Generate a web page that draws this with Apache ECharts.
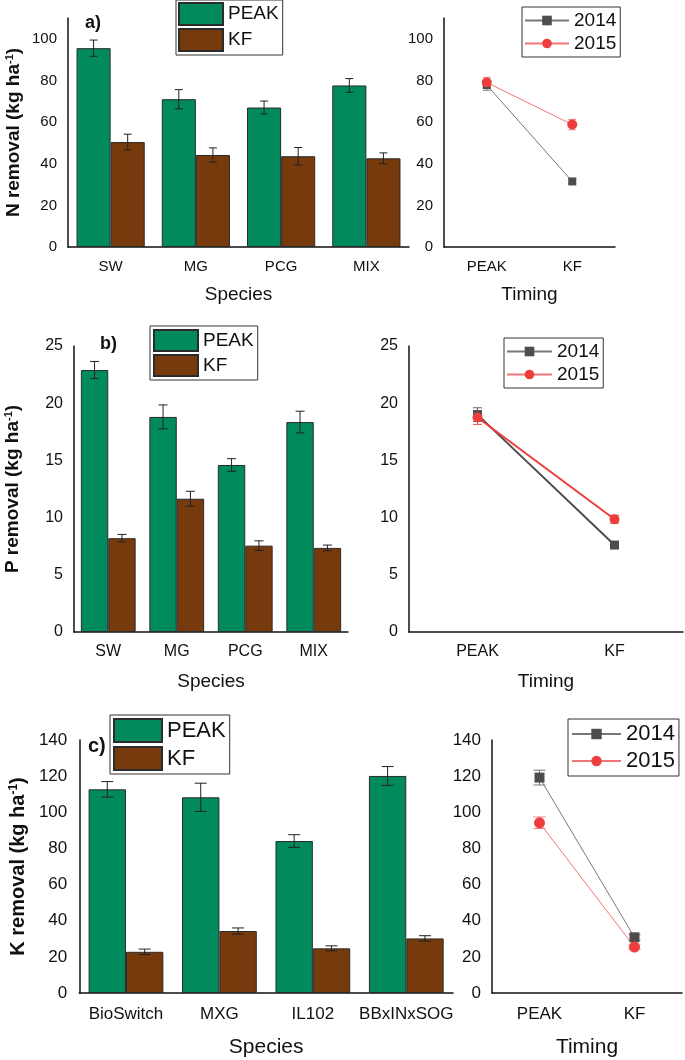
<!DOCTYPE html>
<html>
<head>
<meta charset="utf-8">
<script src="https://cdn.jsdelivr.net/npm/echarts@6/dist/echarts.min.js"></script>
<style>
html, body { margin: 0; padding: 0; background: #fff; }
#chart { width: 685px; height: 1060px; }
</style>
</head>
<body>
<div id="chart"></div>
<script>
const speciesAB = ['SW', 'MG', 'PCG', 'MIX']
const speciesC = ['BioSwitch', 'MXG', 'IL102', 'BBxINxSOG']
const timing = ['PEAK', 'KF']

const nTicks = [0, 20, 40, 60, 80, 100]
const pTicks = [0, 5, 10, 15, 20, 25]
const kTicks = [0, 20, 40, 60, 80, 100, 120, 140]

const nPeak = [95.5, 71.0, 67.0, 77.6]
const nPeakErr = [3.9, 4.6, 3.1, 3.3]
const nKf = [50.4, 44.2, 43.6, 42.6]
const nKfErr = [3.8, 3.4, 4.2, 2.6]
const n2014 = [77.8, 31.5]
const n2014Err = [2.5, 1.0]
const n2015 = [79.0, 58.8]
const n2015Err = [2.5, 2.5]

const pPeak = [22.9, 18.8, 14.6, 18.35]
const pPeakErr = [0.75, 1.05, 0.55, 0.95]
const pKf = [8.2, 11.65, 7.55, 7.35]
const pKfErr = [0.33, 0.65, 0.42, 0.25]
const p2014 = [19.0, 7.6]
const p2014Err = [0.6, 0.15]
const p2015 = [18.75, 9.85]
const p2015Err = [0.6, 0.35]

const kPeak = [112.7, 108.3, 84.1, 120.1]
const kPeakErr = [4.3, 7.8, 3.5, 5.2]
const kKf = [22.8, 34.3, 24.7, 30.2]
const kKfErr = [1.5, 1.7, 1.4, 1.5]
const k2014 = [119.2, 30.8]
const k2014Err = [4.1, 1.5]
const k2015 = [94.2, 25.4]
const k2015Err = [3.2, 1.2]

const FONT = 'Liberation Sans, Arial, sans-serif'
const INK = '#111'
const GREEN = '#008a5e'
const BROWN = '#763a0c'
const GRAY = '#4d4d4d'
const RED = '#ee3d3d'

const chart = echarts.init(document.getElementById('chart'))

function errSeries(idx, vals, errs, shift, color, cap, z) {
  return {
    type: 'custom',
    xAxisIndex: idx,
    yAxisIndex: idx,
    silent: true,
    z: z,
    data: vals.map((v, i) => [i, v, errs[i]]),
    renderItem(params, api) {
      const i = api.value(0)
      const v = api.value(1)
      const e = api.value(2)
      const band = api.size([1, 0])[0]
      const x = api.coord([i, v])[0] + shift * band
      const y1 = api.coord([i, v + e])[1]
      const y2 = api.coord([i, v - e])[1]
      const style = { stroke: color, lineWidth: 1 }
      return {
        type: 'group',
        children: [
          { type: 'line', shape: { x1: x, y1: y1, x2: x, y2: y2 }, style },
          { type: 'line', shape: { x1: x - cap, y1: y1, x2: x + cap, y2: y1 }, style },
          { type: 'line', shape: { x1: x - cap, y1: y2, x2: x + cap, y2: y2 }, style }
        ]
      }
    }
  }
}

function catAxis(idx, data, fs, margin, name, nameFs, nameGap) {
  return {
    type: 'category',
    gridIndex: idx,
    data: data,
    name: name,
    nameLocation: 'middle',
    nameGap: nameGap,
    nameTextStyle: { fontFamily: FONT, fontSize: nameFs, color: INK },
    axisLine: { lineStyle: { color: INK, width: 1.5 } },
    axisTick: { alignWithLabel: true, length: 7, lineStyle: { color: INK, width: 1.5 } },
    axisLabel: { fontFamily: FONT, fontSize: fs, color: INK, margin: margin, interval: 0, hideOverlap: false },
    splitLine: { show: false }
  }
}

function valAxis(idx, max, interval, ticks, fs, margin, name, nameFs, nameGap) {
  return {
    type: 'value',
    gridIndex: idx,
    min: 0,
    max: max,
    interval: interval,
    name: name,
    nameLocation: 'middle',
    nameGap: nameGap,
    nameRotate: 90,
    nameTextStyle: {
      color: INK,
      rich: {
        t: { fontFamily: FONT, fontSize: nameFs, fontWeight: 'bold', color: INK },
        s: { fontFamily: FONT, fontSize: Math.round(nameFs * 0.6), fontWeight: 'bold', color: INK, verticalAlign: 'top', padding: [0, 0, 6, 0] }
      }
    },
    axisLine: { show: true, lineStyle: { color: INK, width: 1.5 } },
    axisTick: { length: 7, lineStyle: { color: INK, width: 1.5 }, customValues: ticks },
    axisLabel: { fontFamily: FONT, fontSize: fs, color: INK, margin: margin, customValues: ticks },
    splitLine: { show: false }
  }
}

function barPair(idx, peak, kf) {
  const common = { type: 'bar', xAxisIndex: idx, yAxisIndex: idx, barGap: '0%', barCategoryGap: '20%', z: 2 }
  return [
    Object.assign({ name: 'PEAK', data: peak, itemStyle: { color: GREEN, borderColor: '#2b2b2b', borderWidth: 1 } }, common),
    Object.assign({ name: 'KF', data: kf, itemStyle: { color: BROWN, borderColor: '#2b2b2b', borderWidth: 1 } }, common)
  ]
}

function linePair(idx, d14, d15, lw, s14, s15) {
  const common = { type: 'line', xAxisIndex: idx, yAxisIndex: idx, z: 4 }
  return [
    Object.assign({ name: '2014', data: d14, symbol: 'rect', symbolSize: s14, itemStyle: { color: GRAY }, lineStyle: { color: lw > 1 ? GRAY : '#777', width: lw } }, common),
    Object.assign({ name: '2015', data: d15, symbol: 'circle', symbolSize: s15, itemStyle: { color: RED }, lineStyle: { color: lw > 1 ? RED : '#f07575', width: lw } }, common)
  ]
}

function legendBox(names, left, top, pad, w, h, gap, fs, icon) {
  const lg = {
    orient: 'vertical',
    left: left,
    top: top,
    data: names,
    itemWidth: w,
    itemHeight: h,
    itemGap: gap,
    padding: pad,
    borderColor: '#333',
    borderWidth: 1,
    borderRadius: 0,
    backgroundColor: '#fff',
    selectedMode: false,
    textStyle: { fontFamily: FONT, fontSize: fs, color: INK }
  }
  if (icon) lg.icon = icon
  return lg
}

chart.setOption({
  animation: false,
  grid: [
    { left: 68, top: 18, width: 341, height: 229 },
    { left: 444, top: 18, width: 171, height: 229 },
    { left: 74, top: 346, width: 274, height: 286 },
    { left: 409, top: 346, width: 274, height: 286 },
    { left: 74, top: 740, width: 379, height: 253 },
    { left: 492, top: 740, width: 190, height: 253 }
  ],
  xAxis: [
    catAxis(0, speciesAB, 15, 12, 'Species', 19, 38),
    catAxis(1, timing, 15, 12, 'Timing', 19, 38),
    catAxis(2, speciesAB, 16, 12, 'Species', 19, 40),
    catAxis(3, timing, 16, 12, 'Timing', 19, 40),
    catAxis(4, speciesC, 17, 13, 'Species', 21, 44),
    catAxis(5, timing, 17, 13, 'Timing', 21, 44)
  ],
  yAxis: [
    valAxis(0, 110, 10, nTicks, 15, 11, '{t|N removal (kg ha}{s|-1}{t|)}', 19, 45),
    valAxis(1, 110, 10, nTicks, 15, 11, '', 18, 45),
    valAxis(2, 25, 5, pTicks, 16, 11, '{t|P removal (kg ha}{s|-1}{t|)}', 19, 52),
    valAxis(3, 25, 5, pTicks, 16, 11, '', 18, 45),
    valAxis(4, 140, 20, kTicks, 17, 12, '{t|K removal (kg ha}{s|-1}{t|)}', 20, 51),
    valAxis(5, 140, 20, kTicks, 17, 11, '', 18, 45)
  ],
  legend: [
    legendBox(['PEAK', 'KF'], 176, 0, [2, 4, 3, 2], 44, 22, 2, 19, 'rect'),
    legendBox(['2014', '2015'], 522, 7, [4, 4, 4, 2], 44, 12, 4, 19),
    legendBox(['PEAK', 'KF'], 150, 326, [3, 4, 3, 3], 44, 21, 2, 19, 'rect'),
    legendBox(['2014', '2015'], 504, 338, [4, 4, 4, 2], 45, 12, 4, 19),
    legendBox(['PEAK', 'KF'], 110, 715, [3, 4, 3, 3], 48, 23, 3, 22, 'rect'),
    legendBox(['2014', '2015'], 568, 719, [4, 4, 4, 3], 49, 13, 5, 22)
  ],
  graphic: [
    { type: 'text', left: 85, top: 14, style: { text: 'a)', fontFamily: FONT, fontSize: 18, fontWeight: 'bold', fill: INK } },
    { type: 'text', left: 100, top: 335, style: { text: 'b)', fontFamily: FONT, fontSize: 18, fontWeight: 'bold', fill: INK } },
    { type: 'text', left: 88, top: 736, style: { text: 'c)', fontFamily: FONT, fontSize: 20, fontWeight: 'bold', fill: INK } }
  ],
  series: [
    ...barPair(0, nPeak, nKf),
    errSeries(0, nPeak, nPeakErr, -0.2, '#222', 4, 5),
    errSeries(0, nKf, nKfErr, 0.2, '#222', 4, 5),
    ...linePair(1, n2014, n2015, 1, 8, 10),
    errSeries(1, n2014, n2014Err, 0, '#777', 4, 3),
    errSeries(1, n2015, n2015Err, 0, '#f08080', 4, 3),

    ...barPair(2, pPeak, pKf),
    errSeries(2, pPeak, pPeakErr, -0.2, '#222', 4.5, 5),
    errSeries(2, pKf, pKfErr, 0.2, '#222', 4.5, 5),
    ...linePair(3, p2014, p2015, 2, 9, 10),
    errSeries(3, p2014, p2014Err, 0, '#666', 4.5, 3),
    errSeries(3, p2015, p2015Err, 0, '#e05050', 4.5, 3),

    ...barPair(4, kPeak, kKf),
    errSeries(4, kPeak, kPeakErr, -0.2, '#222', 6, 5),
    errSeries(4, kKf, kKfErr, 0.2, '#222', 6, 5),
    ...linePair(5, k2014, k2015, 1, 10, 11),
    errSeries(5, k2014, k2014Err, 0, '#777', 6, 3),
    errSeries(5, k2015, k2015Err, 0, '#f08080', 6, 3)
  ]
})
</script>
</body>
</html>
